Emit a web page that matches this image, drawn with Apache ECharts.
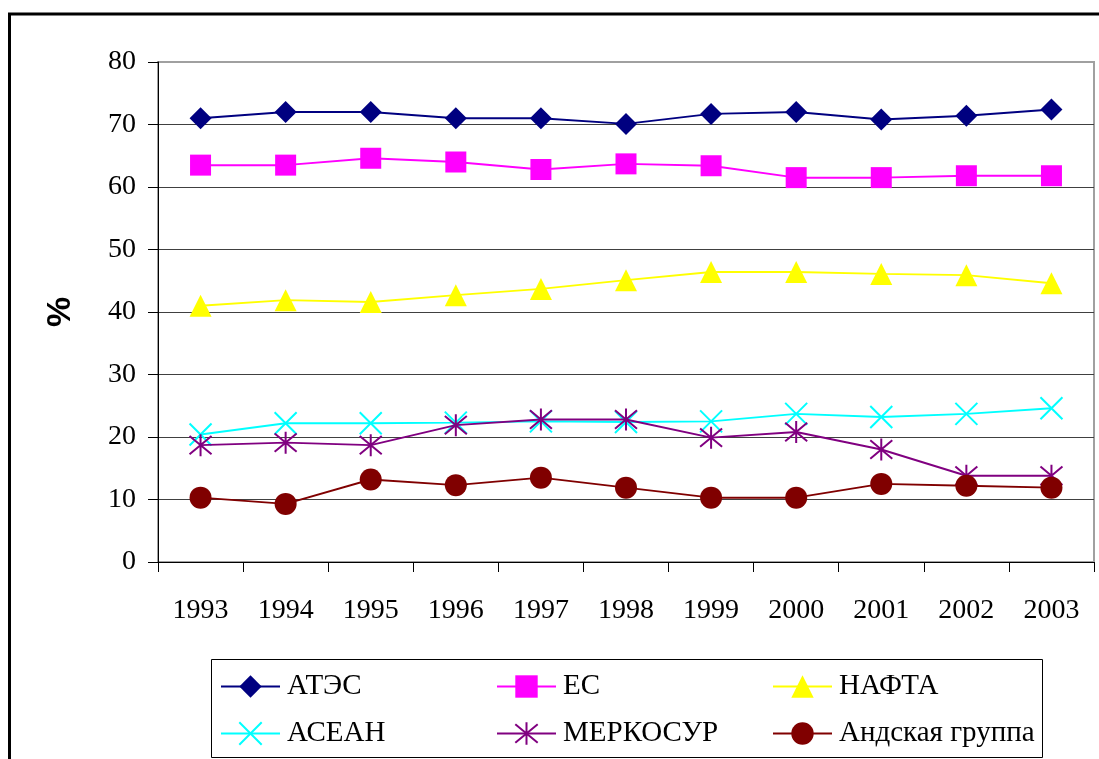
<!DOCTYPE html>
<html>
<head>
<meta charset="utf-8">
<script src="https://cdn.jsdelivr.net/npm/echarts@6/dist/echarts.min.js"></script>
<style>
html,body{margin:0;padding:0;background:#fff;}
#chart{width:1099px;height:759px;}
</style>
</head>
<body>
<div id="chart"></div>
<script>
const years = ['1993','1994','1995','1996','1997','1998','1999','2000','2001','2002','2003'];
const yTicks = [0, 10, 20, 30, 40, 50, 60, 70, 80];
const seriesNames = ['АТЭС','ЕС','НАФТА','АСЕАН','МЕРКОСУР','Андская группа'];
const apec     = [71.0, 72.0, 72.0, 71.0, 71.0, 70.1, 71.7, 72.0, 70.8, 71.4, 72.4];
const eu       = [63.5, 63.5, 64.6, 64.0, 62.8, 63.7, 63.4, 61.5, 61.5, 61.8, 61.8];
const nafta    = [41.0, 41.9, 41.6, 42.7, 43.7, 45.1, 46.4, 46.4, 46.1, 45.9, 44.6];
const asean    = [20.4, 22.2, 22.2, 22.3, 22.5, 22.4, 22.5, 23.7, 23.2, 23.7, 24.6];
const mercosur = [18.7, 19.1, 18.7, 21.9, 22.8, 22.8, 19.9, 20.8, 18.0, 13.8, 13.8];
const andean   = [10.3, 9.3, 13.2, 12.3, 13.5, 11.9, 10.3, 10.3, 12.5, 12.2, 11.9];

const dataSets = [apec, eu, nafta, asean, mercosur, andean];
const colors = ['#000080','#FF00FF','#FFFF00','#00FFFF','#800080','#800000'];
const symbols = [
  'diamond',
  'rect',
  'triangle',
  'path://M0,0L20,20M20,0L0,20',
  'path://M0,0L20,20M20,0L0,20M10,-2L10,22',
  'circle'
];
const symbolSizes = [22, 21, 22, 22, 22, 22];
const strokeOnly = [false, false, false, true, true, false];

const serif = "'Liberation Serif','Times New Roman',serif";

const series = seriesNames.map((name, i) => ({
  name: name,
  type: 'line',
  data: dataSets[i],
  symbol: symbols[i],
  symbolSize: symbolSizes[i],
  showSymbol: true,
  showAllSymbol: true,
  lineStyle: { color: colors[i], width: 2 },
  itemStyle: strokeOnly[i]
    ? { color: 'rgba(0,0,0,0)', borderColor: colors[i], borderWidth: 2 }
    : { color: colors[i], borderWidth: 0 },
  emphasis: { disabled: true },
  z: 2 + i
}));

const legendCols = [220, 496, 772];
const legendRows = [672, 719];
const legends = seriesNames.map((name, i) => ({
  data: [name],
  left: legendCols[i % 3],
  top: legendRows[Math.floor(i / 3)],
  padding: 0,
  itemWidth: 59,
  itemHeight: 28,
  selectedMode: false,
  textStyle: { fontFamily: serif, fontSize: 29, color: '#000', padding: [0, 0, 0, 2] }
}));

const splitColors = yTicks.map((t, i) => (i === 0 || i === yTicks.length - 1) ? '#a0a0a0' : '#404040');

const chart = echarts.init(document.getElementById('chart'), null, { renderer: 'canvas' });
chart.setOption({
  animation: false,
  backgroundColor: '#fff',
  grid: {
    left: 158, top: 62, right: 5, bottom: 197,
    show: true, borderColor: '#a0a0a0', borderWidth: 2
  },
  legend: legends,
  graphic: [
    { type: 'rect', shape: { x: 9.5, y: 14, width: 1300, height: 1000 },
      style: { fill: 'none', stroke: '#000', lineWidth: 3 }, silent: true, z: 100 },
    { type: 'rect', shape: { x: 211.5, y: 659.5, width: 831, height: 98 },
      style: { fill: 'none', stroke: '#000', lineWidth: 1 }, silent: true, z: 100 }
  ],
  xAxis: {
    type: 'category',
    data: years,
    boundaryGap: true,
    axisLine: { lineStyle: { color: '#000', width: 1 } },
    axisTick: { show: true, length: 10, alignWithLabel: false, lineStyle: { color: '#000' } },
    axisLabel: { fontFamily: serif, fontSize: 28, color: '#000', margin: 35 },
    splitLine: { show: false }
  },
  yAxis: {
    type: 'value',
    min: 0, max: 80, interval: 10,
    name: '%',
    nameLocation: 'middle',
    nameGap: 80,
    nameRotate: 90,
    nameTextStyle: { fontFamily: "'Liberation Sans',Arial,sans-serif", fontSize: 34, fontWeight: 'bold', color: '#000' },
    axisLine: { show: true, lineStyle: { color: '#000', width: 1 } },
    axisTick: { show: true, length: 10, lineStyle: { color: '#000' } },
    axisLabel: { fontFamily: serif, fontSize: 28, color: '#000', margin: 22,
      formatter: v => yTicks.includes(v) ? String(v) : '' },
    splitLine: { show: true, lineStyle: { color: splitColors, width: 1 } }
  },
  series: series
});
</script>
</body>
</html>
